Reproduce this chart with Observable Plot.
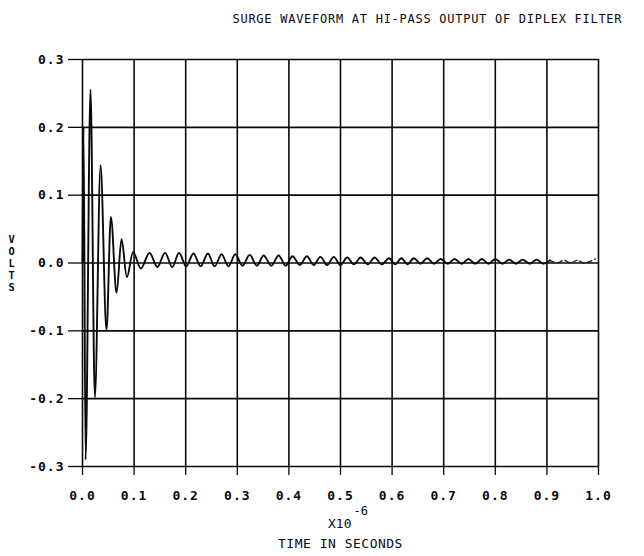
<!DOCTYPE html>
<html>
<head>
<meta charset="utf-8">
<script src="https://cdn.jsdelivr.net/npm/d3@7"></script>
<script src="https://cdn.jsdelivr.net/npm/@observablehq/plot@0.6"></script>
<style>
  html, body { margin: 0; padding: 0; background: #fff; }
  #chart svg { display: block; }
</style>
</head>
<body>
<div id="chart"></div>
<script>
// ---- data (extrema of the trace, microseconds / volts) ----
const titleText = "SURGE WAVEFORM AT HI-PASS OUTPUT OF DIPLEX FILTER";
const yLabel = "VOLTS";
const xLabel = "TIME IN SECONDS";
const xScaleLabel = "X10";
const xScaleExp = "-6";

const xTicks = [0.0, 0.1, 0.2, 0.3, 0.4, 0.5, 0.6, 0.7, 0.8, 0.9, 1.0];
const yTicks = [-0.3, -0.2, -0.1, 0.0, 0.1, 0.2, 0.3];

// solid part of the trace
const timeSolid = [0, 0.002, 0.006, 0.0155, 0.024, 0.035, 0.0465, 0.055, 0.066, 0.0756,
  0.086, 0.098, 0.113, 0.130, 0.145, 0.160, 0.174, 0.187, 0.201, 0.215,
  0.229, 0.243, 0.256, 0.2695, 0.283, 0.296, 0.310, 0.324, 0.338, 0.351,
  0.366, 0.380, 0.394, 0.407, 0.421, 0.435, 0.448, 0.461, 0.474, 0.487,
  0.500, 0.513, 0.526, 0.539, 0.553, 0.566, 0.580, 0.594, 0.606, 0.618,
  0.630, 0.642, 0.655, 0.668, 0.681, 0.694, 0.708, 0.721, 0.735, 0.748,
  0.761, 0.774, 0.787, 0.800, 0.814, 0.827, 0.840, 0.853, 0.867, 0.880,
  0.893, 0.906];
const voltSolid = [0, 0.20, -0.29, 0.256, -0.198, 0.144, -0.099, 0.068, -0.044, 0.035,
  -0.021, 0.016, -0.008, 0.015, -0.006, 0.015, -0.006, 0.015, -0.005, 0.014,
  -0.005, 0.014, -0.005, 0.013, -0.005, 0.013, -0.004, 0.012, -0.004, 0.011,
  -0.004, 0.011, -0.004, 0.010, -0.003, 0.010, -0.003, 0.009, -0.003, 0.009,
  -0.003, 0.008, -0.002, 0.008, -0.002, 0.008, -0.002, 0.007, -0.002, 0.007,
  -0.002, 0.007, -0.001, 0.007, -0.001, 0.006, -0.001, 0.006, -0.001, 0.006,
  -0.001, 0.006, -0.001, 0.006, -0.001, 0.005, -0.001, 0.005, -0.001, 0.005,
  -0.001, 0.004];

// faint (broken) end of the trace
const timeFaint = [0.906, 0.920, 0.933, 0.946, 0.959, 0.972, 0.986, 0.994];
const voltFaint = [0.004, 0.000, 0.004, 0.000, 0.004, 0.000, 0.003, 0.006];

const solid = timeSolid.map((t, i) => ({t, v: voltSolid[i]}));
const faint = timeFaint.map((t, i) => ({t, v: voltFaint[i]}));

const fmt = d => d.toFixed(1);
const MONO = "'DejaVu Sans Mono', 'Liberation Mono', monospace";
const INK = "#0a0a0a";

const chart = Plot.plot({
  width: 644,
  height: 556,
  marginLeft: 82,
  marginRight: 46,
  marginTop: 59,
  marginBottom: 90,
  style: {
    fontFamily: MONO,
    fontSize: "13px",
    color: INK,
    background: "#fff"
  },
  x: {domain: [0, 1], axis: null},
  y: {domain: [-0.3, 0.3], axis: null},
  marks: [
    Plot.ruleX(xTicks, {stroke: INK, strokeWidth: 1.6}),
    Plot.ruleY(yTicks, {stroke: INK, strokeWidth: 1.6}),
    Plot.axisX(xTicks, {label: null, tickSize: 9, tickPadding: 15, tickFormat: fmt, stroke: INK, strokeWidth: 1.3,
      fill: INK, fontSize: 13, fontWeight: "bold"}),
    Plot.axisY(yTicks, {label: null, tickSize: 14, tickPadding: 4, tickFormat: fmt, stroke: INK, strokeWidth: 1.3,
      fill: INK, fontSize: 13, fontWeight: "bold"}),
    Plot.line(solid, {x: "t", y: "v", curve: "monotone-x", stroke: INK, strokeWidth: 1.9}),
    Plot.line(faint, {x: "t", y: "v", curve: "monotone-x", stroke: "#222", strokeWidth: 1.4, strokeDasharray: "5,3"}),
    Plot.text([titleText], {className: "t-title", text: d => d, frameAnchor: "top-left", dx: 150, dy: -45,
      textAnchor: "start", fontSize: 12, fill: INK}),
    Plot.text([yLabel.split("").join("\n")], {text: d => d, frameAnchor: "left", dx: -74,
      lineHeight: 1.17, fontSize: 10.4, fontWeight: 600, fill: INK}),
    Plot.text([xScaleLabel], {text: d => d, frameAnchor: "bottom", dx: 11, dy: 61,
      textAnchor: "end", fontSize: 13, fill: INK}),
    Plot.text([xScaleExp], {text: d => d, frameAnchor: "bottom", dx: 13, dy: 48,
      textAnchor: "start", fontSize: 12, fill: INK}),
    Plot.text([xLabel], {className: "t-xlabel", text: d => d, frameAnchor: "bottom", dy: 81, fontSize: 13, fill: INK})
  ]
});
// letter spacing of the plotter lettering
d3.select(chart).selectAll(".t-title text, text.t-title, g.t-title text").style("letter-spacing", "0.73px");
d3.select(chart).selectAll(".t-xlabel text, text.t-xlabel, g.t-xlabel text").style("letter-spacing", "0.5px");
d3.select(chart).selectAll('g[aria-label="x-axis tick label"] text, g[aria-label="y-axis tick label"] text')
  .style("letter-spacing", "1px");
document.getElementById("chart").appendChild(chart);
</script>
</body>
</html>
